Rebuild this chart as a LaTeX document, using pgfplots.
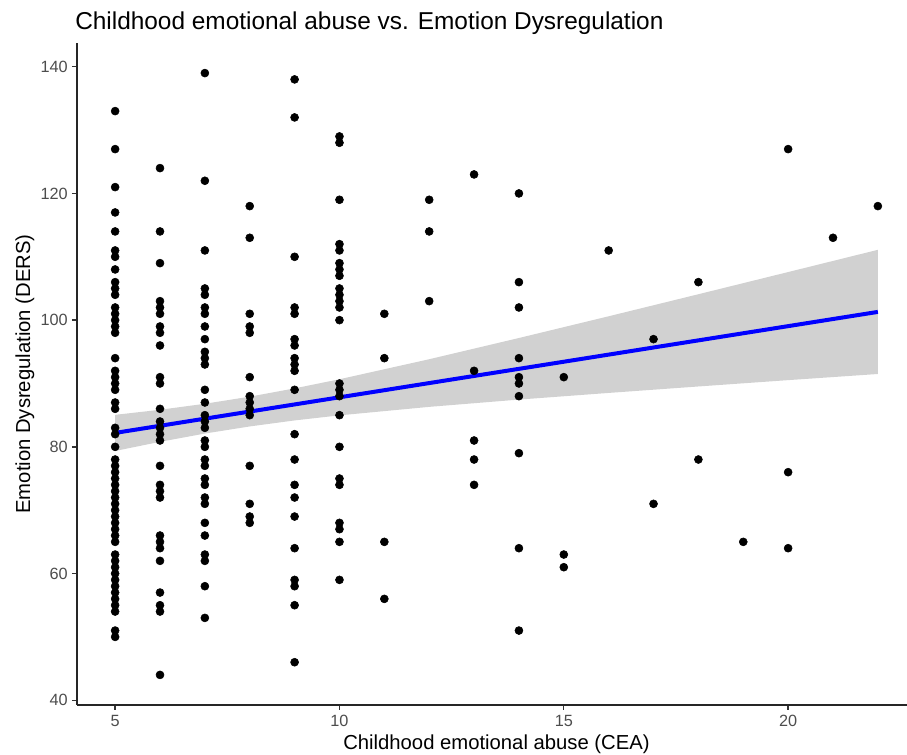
\documentclass[border=0pt]{standalone}
\usepackage{fontspec}
\setmainfont{Liberation Sans}
\usepackage{pgfplots}
\pgfplotsset{compat=1.18}
\usepackage{pgfplotstable}
\definecolor{ggtick}{RGB}{77,77,77}
\definecolor{ggline}{RGB}{0,0,255}
\pgfplotstableread{
x y
5 133
5 127
5 121
5 117
5 114
5 111
5 110
5 108
5 106
5 105
5 104
5 102
5 101
5 100
5 99
5 98
5 94
5 92
5 91
5 90
5 89
5 87
5 86
5 83
5 82
5 80
5 78
5 77
5 76
5 75
5 74
5 73
5 72
5 71
5 70
5 69
5 68
5 67
5 66
5 65
5 63
5 62
5 61
5 60
5 59
5 58
5 57
5 56
5 55
5 54
5 51
5 50
6 124
6 114
6 109
6 103
6 102
6 101
6 99
6 98
6 96
6 91
6 90
6 86
6 84
6 83
6 82
6 81
6 77
6 74
6 73
6 72
6 66
6 65
6 64
6 62
6 57
6 55
6 54
6 44
7 139
7 122
7 111
7 105
7 104
7 102
7 101
7 99
7 97
7 95
7 94
7 93
7 89
7 87
7 85
7 84
7 83
7 81
7 80
7 78
7 77
7 75
7 74
7 72
7 71
7 68
7 66
7 63
7 62
7 58
7 53
8 118
8 113
8 101
8 99
8 98
8 91
8 88
8 87
8 86
8 85
8 77
8 71
8 69
8 68
9 138
9 132
9 110
9 102
9 101
9 97
9 96
9 94
9 93
9 92
9 89
9 82
9 78
9 74
9 72
9 69
9 64
9 59
9 58
9 55
9 46
10 129
10 128
10 119
10 112
10 111
10 109
10 108
10 107
10 105
10 104
10 103
10 102
10 100
10 90
10 89
10 88
10 85
10 80
10 75
10 74
10 68
10 67
10 65
10 59
11 101
11 94
11 65
11 56
12 119
12 114
12 103
13 123
13 92
13 81
13 78
13 74
14 120
14 106
14 102
14 94
14 91
14 90
14 88
14 79
14 64
14 51
15 91
15 63
15 61
16 111
17 97
17 71
18 106
18 78
19 65
20 127
20 76
20 64
21 113
22 118
}\scatterdata
\begin{document}
\begin{tikzpicture}
\begin{axis}[
  name=ax,
  scale only axis,
  width=629.25pt, height=496.5pt,
  xmin=4.15, xmax=22.85,
  ymin=39.25, ymax=143.75,
  axis x line=bottom, axis y line=left,
  axis line style={-, line width=1.4pt, black!85},
  tick align=outside,
  major tick length=3.75pt,
  tick style={line width=1pt, black!80},
  xtick={5,10,15,20},
  ytick={40,60,80,100,120,140},
  /pgf/number format/assume math mode=true,
  ticklabel style={font=\fontsize{12.2}{14}\selectfont, text=ggtick},
  xticklabel style={inner sep=0pt, anchor=north, yshift=-3.75pt},
  yticklabel style={inner sep=0pt, anchor=east, xshift=-3pt},
  clip=false,
]
\addplot[only marks, mark=*, mark size=3pt, black] table[x=x, y=y] {\scatterdata};
\addplot[draw=none, fill=black!40, fill opacity=0.45] coordinates {
  (5,85.05) (6,85.85) (7,86.8) (8,87.92) (9,89.23) (10,90.67) (12,93.83) (14,97.18) (16,100.61) (18,104.09) (20,107.59) (22,111.1)
  (22,91.5) (20,90.53) (18,89.53) (16,88.51) (14,87.46) (12,86.31) (10,84.97) (9,84.17) (8,83.22) (7,82.1) (6,80.79) (5,79.35)
} -- cycle;
\addplot[ggline, line width=3pt] coordinates {(5,82.2) (22,101.3)};
\end{axis}
\node[anchor=base west, inner sep=0pt, font=\fontsize{18.3}{21}\selectfont, text=black] at ([xshift=-1.5pt, yshift=10.3pt]ax.north west) {Childhood emotional abuse vs. Emotion Dysregulation};
\node[anchor=base, inner sep=0pt, font=\fontsize{15.2}{18}\selectfont] at ([yshift=-33.75pt]ax.south) {Childhood emotional abuse (CEA)};
\node[anchor=base, rotate=90, inner sep=0pt, font=\fontsize{15.2}{18}\selectfont] at ([xshift=-35.25pt]ax.west) {Emotion Dysregulation (DERS)};
\pgfresetboundingbox
\path[use as bounding box] ([xshift=-57.75pt, yshift=-37.5pt]ax.south west) rectangle ([xshift=622.5pt, yshift=528.75pt]ax.south west);
\end{tikzpicture}
\end{document}
